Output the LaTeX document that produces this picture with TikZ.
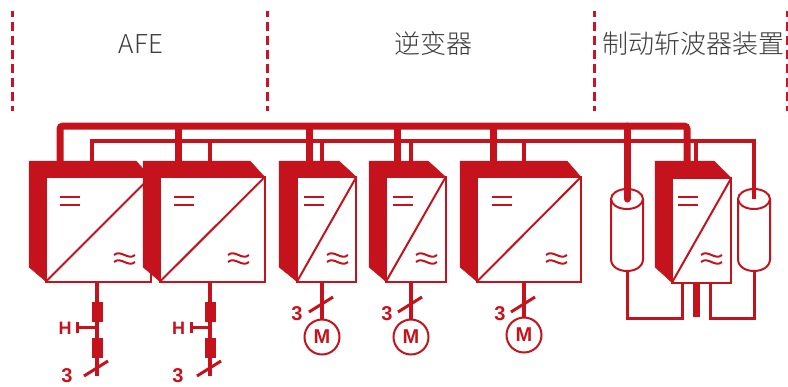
\documentclass[tikz,border=0pt]{standalone}
\usepackage{fontspec}
\usetikzlibrary{shapes}
\newfontfamily\cjkfont{Noto Sans CJK SC}[UprightFont=* Light]
\newfontfamily\markfont{Liberation Sans}[BoldFont=* Bold]
\definecolor{drivered}{HTML}{C4131C}
\definecolor{zonered}{HTML}{CE1126}
\definecolor{titlegray}{HTML}{3C3C3C}
\begin{document}
\begin{tikzpicture}[x=1pt,y=-1pt]
        \tikzstyle{every node}+=[inner sep=0pt,outer sep=0pt]
        \tikzstyle{zoneline}=[zonered,line width=3pt,dash pattern=on 9pt off 5pt,dash phase=3.5pt]
        \tikzstyle{zonetitle}=[titlegray,font=\cjkfont\fontsize{26}{30}\selectfont]
        \tikzstyle{busa}=[drivered,line width=7pt]
        \tikzstyle{busb}=[drivered,line width=3.5pt]
        \tikzstyle{wire}=[drivered,line width=3pt]
        \tikzstyle{sign}=[drivered,line width=2pt]
        \tikzstyle{convbox}=[draw=drivered,fill=white,line width=2pt,minimum height=104.5pt]
        \tikzstyle{capend}=[draw=drivered,ellipse,line width=2pt,minimum width=32pt,minimum height=20pt]
        \tikzstyle{reactor}=[fill=drivered,minimum width=11pt,minimum height=20pt]
        \tikzstyle{motor}=[draw=drivered,circle,line width=2pt,minimum size=35pt,text=drivered,font=\markfont\bfseries\fontsize{20}{20}\selectfont]
        \tikzstyle{phasemark}=[text=drivered,font=\markfont\bfseries\fontsize{20}{20}\selectfont]
        \tikzstyle{relaymark}=[text=drivered,font=\markfont\bfseries\fontsize{18}{18}\selectfont]
        \useasboundingbox (0,0) rectangle (788,386);
        \foreach \xz in {12.7,267,594,787}
                \draw [zoneline] (\xz,11) -- (\xz,111);
        \node [zonetitle] (afe) at (141,44) {AFE};
        \node [zonetitle] (inverter) at (433.5,44) {逆变器};
        \node [zonetitle] (chopper) at (693,44) {制动斩波器装置};
        \foreach \nm/\xl/\xr/\xo/\xt/\xe/\xw/\ym in {
                1/46/150.5/29/136/60/114/229.3,
                2/160/264.7/143/250/174/228/229.3,
                3/297/356.3/279/339/304/327/229.3,
                4/386/445.7/369/428/393/416/229.3,
                5/477/581/460/567/492/546/229.3,
                6/672/731.3/655/714/678/701/230.3}{
                \node [convbox,minimum width=\xr pt-\xl pt] (conv\nm) at ({(\xl+\xr)/2},\ym) {};
                \draw [drivered,fill=drivered,line width=.5pt] (\xo,161) -- (\xt,161) -- (conv\nm.north east) -- (conv\nm.north west) -- (conv\nm.south west) -- (\xo,267) -- cycle;
                \draw [sign] (conv\nm.south west) -- (conv\nm.north east);
                \draw [sign] (\xe,197) -- ++(20,0);
                \draw [sign] (\xe,205) -- ++(20,0);
                \draw [sign] (\xw,255) .. controls +(7,-6) and +(-7,6) .. ++(21,0);
                \draw [sign] (\xw,262) .. controls +(7,-6) and +(-7,6) .. ++(21,0);
                \coordinate (top\nm) at (\xl,161);
        }
        \foreach \nm/\cx in {1/627,2/754}{
                \node [capend] (cap\nm) at (\cx,199) {};
                \draw [sign] (cap\nm.west) -- ++(0,60) .. controls +(0,8) and +(-8,0) .. ++(16,12) coordinate (capb\nm) .. controls +(8,0) and +(0,8) .. ++(16,-12) -- (cap\nm.east);
        }
        \coordinate (dcleft) at (60,126);
        \coordinate (dcright) at (687,126);
        \coordinate (fbleft) at (92,141);
        \coordinate (fbright) at (754,141);
        \draw [busa,rounded corners=3pt] (top1 -| dcleft) -- (dcleft) -- (dcright) -- (top6 -| dcright);
        \draw [busb] (top1 -| fbleft) -- (fbleft) -- (fbright) -- (cap2.center);
        \foreach \nm/\xa/\xb in {2/178.5/210,3/309/322,4/397/411,5/493/524}{
                \coordinate (tapa\nm) at (\xa,126);
                \coordinate (tapb\nm) at (\xb,141);
                \draw [busa] (tapa\nm) -- (tapa\nm |- top\nm);
                \draw [busb] (tapb\nm) -- (tapb\nm |- top\nm);
        }
        \coordinate (tapb6) at (696,141);
        \draw [busb] (tapb6) -- (tapb6 |- top6);
        \coordinate (tapcap) at (627,126);
        \draw [busa,line cap=round] (tapcap) -- (cap1.center);
        \foreach \nm/\cx/\rl/\hx/\tx in {1/97/77/65/67,2/210/191/178.5/178}{
                \node [reactor] (reactora\nm) at (\cx,311.5) {};
                \node [reactor] (reactorb\nm) at (\cx,347.5) {};
                \coordinate (feed\nm) at (\cx,376);
                \draw [busb] (conv\nm.south -| feed\nm) -- (feed\nm);
                \coordinate (relay\nm) at (\rl,327.5);
                \draw [wire] (relay\nm) -- (relay\nm -| feed\nm);
                \draw [wire] ([yshift=-5.5pt]relay\nm) -- ([yshift=5.5pt]relay\nm);
                \node [relaymark] (h\nm) at (\hx,328) {H};
                \draw [wire,shift={(\cx-1,368.5)}] (-12,7.5) -- (12,-7.5);
                \node [phasemark] (phase\nm) at (\tx,376) {3};
        }
        \foreach \nm/\cx/\cy/\tx in {3/322/337/297,4/411/337/387,5/524/335/500}{
                \node [motor] (motor\nm) at (\cx,\cy) {M};
                \draw [busb] (conv\nm.south -| motor\nm) -- (motor\nm);
                \draw [wire,shift={(\cx-1,304.5)}] (-12,7.5) -- (12,-7.5);
                \node [phasemark] (phase\nm) at (\tx,314) {3};
        }
        \coordinate (linkl) at (682,318);
        \coordinate (linkm) at (696,317);
        \coordinate (linkr) at (710.5,318);
        \draw [wire] (capb1) |- (linkl) -- (linkl |- conv6.south);
        \draw [wire] (capb2) |- (linkr) -- (linkr |- conv6.south);
        \draw [busa] (linkm |- conv6.south) -- (linkm);
\end{tikzpicture}
\end{document}
